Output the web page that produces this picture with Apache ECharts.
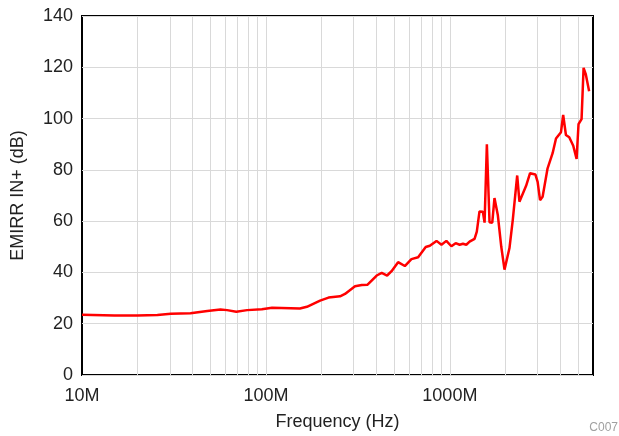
<!DOCTYPE html>
<html>
<head>
<meta charset="utf-8">
<script src="https://cdn.jsdelivr.net/npm/echarts@6/dist/echarts.min.js"></script>
<style>
  html, body { margin: 0; padding: 0; background: #fff; }
  #chart { width: 619px; height: 436px; }
</style>
</head>
<body>
<div id="chart"></div>
<script>
// frequency in MHz
const freqMHz = [10, 15, 20, 25.7, 30.4, 38.9, 48, 56.6, 61.5, 69, 79, 95, 108, 153, 167, 197, 219, 253, 269, 305,
  332, 357, 400, 426, 456, 482, 523, 569, 618, 672, 739, 778, 846, 900, 957, 1019, 1075, 1130, 1178, 1228,
  1280, 1362, 1401, 1449, 1511, 1544, 1589, 1643, 1700, 1748, 1822, 1903, 1982, 2109, 2198, 2323, 2389, 2597,
  2729, 2916, 3000, 3092, 3193, 3398, 3619, 3776, 4018, 4131, 4275, 4456, 4685, 4886, 5005, 5200, 5333, 5485, 5716];
const emirr = [23.5, 23.2, 23.2, 23.4, 23.9, 24.1, 25.0, 25.5, 25.3, 24.7, 25.3, 25.6, 26.2, 25.9, 26.6, 29.0, 30.2, 30.7, 31.6, 34.6,
  35.1, 35.2, 38.8, 39.8, 38.8, 40.5, 44.0, 42.5, 45.2, 45.9, 49.9, 50.4, 52.3, 50.8, 52.3, 50.2, 51.4, 50.8, 51.2, 50.8,
  52.0, 53.1, 55.9, 63.8, 63.7, 59.4, 90.0, 59.6, 59.4, 69.0, 62.4, 50.0, 41.1, 49.5, 60.5, 77.8, 67.6, 73.8,
  78.7, 78.2, 75.3, 68.2, 69.5, 80.6, 86.5, 92.2, 94.7, 101.4, 93.6, 92.7, 89.4, 84.3, 97.8, 99.8, 119.8, 117.2, 110.7];

// minor decade grid lines (Hz)
const minorGrid = [2e7, 3e7, 4e7, 5e7, 6e7, 7e7, 8e7, 9e7, 1e8,
  2e8, 3e8, 4e8, 5e8, 6e8, 7e8, 8e8, 9e8, 1e9,
  2e9, 3e9, 4e9, 5e9];

const yTicks = [0, 20, 40, 60, 80, 100, 120, 140];

var myChart = echarts.init(document.getElementById('chart'));
var font = 'Liberation Sans, Arial, sans-serif';

var option = {
  animation: false,
  grid: {
    left: 82, right: 26, top: 16, bottom: 58,
    show: true,
    borderColor: '#000',
    borderWidth: 2,
    backgroundColor: 'transparent'
  },
  xAxis: {
    type: 'log',
    logBase: 10,
    min: 1e7,
    max: 6e9,
    name: 'Frequency (Hz)',
    nameLocation: 'middle',
    nameGap: 38,
    nameTextStyle: { fontFamily: font, fontSize: 18, color: '#222' },
    axisLine: { show: false },
    axisTick: { show: false },
    splitLine: { show: false },
    axisLabel: {
      fontFamily: font, fontSize: 18, color: '#222', margin: 12,
      showMaxLabel: false,
      formatter: function (v) { return Math.round(v / 1e6) + 'M'; }
    }
  },
  yAxis: {
    type: 'value',
    min: yTicks[0],
    max: yTicks[yTicks.length - 1],
    interval: 20,
    name: 'EMIRR IN+ (dB)',
    nameLocation: 'middle',
    nameRotate: 90,
    nameGap: 55,
    nameTextStyle: { fontFamily: font, fontSize: 18, color: '#222' },
    axisLine: { show: false },
    axisTick: { show: false },
    splitLine: { show: true, lineStyle: { color: '#d9d9d9', width: 1 } },
    axisLabel: { fontFamily: font, fontSize: 18, color: '#222', margin: 9 }
  },
  series: [
    {
      // grid lines only
      type: 'line',
      data: [],
      z: 1,
      silent: true,
      markLine: {
        silent: true,
        symbol: 'none',
        label: { show: false },
        lineStyle: { color: '#d9d9d9', width: 1, type: 'solid' },
        data: minorGrid.map(function (v) { return { xAxis: v }; })
      }
    },
    {
      name: 'EMIRR',
      type: 'line',
      z: 5,
      symbol: 'none',
      lineStyle: { color: '#ff0000', width: 2.5 },
      data: freqMHz.map(function (f, i) { return [f * 1e6, emirr[i]]; })
    }
  ],
  graphic: [
    {
      type: 'text',
      right: 1, top: 422,
      style: { text: 'C007', fontFamily: font, fontSize: 12, fill: '#a0a0a0' }
    }
  ]
};

myChart.setOption(option, true);
</script>
</body>
</html>
